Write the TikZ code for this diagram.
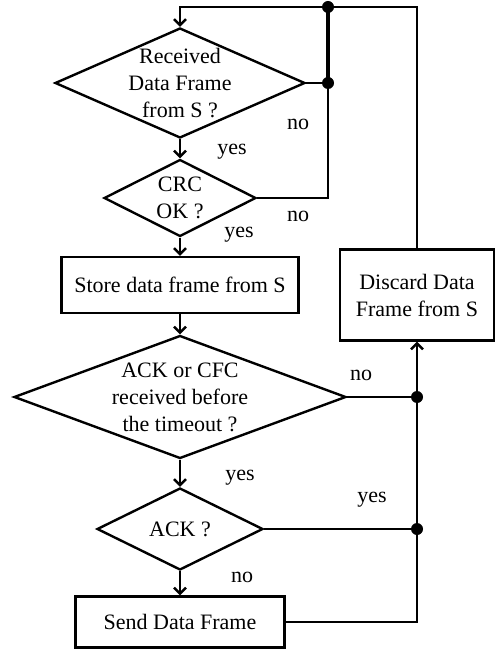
\documentclass[tikz,border=0pt]{standalone}
\usepackage{fontspec}
\setmainfont{Liberation Serif}
\usepackage{tikz}
\usetikzlibrary{arrows.meta}
\usetikzlibrary{shapes.geometric}

\begin{document}
\begin{tikzpicture}[x=1pt, y=-1pt, line width=2.4pt,
    font=\fontsize{22}{27}\selectfont,
    decision/.style={diamond, draw, inner sep=0pt},
    stepbox/.style={rectangle, draw, inner sep=0pt, align=center},
    dot/.style={circle, fill, inner sep=0pt, minimum size=12pt},
    flow/.style={-{Straight Barb[length=6pt, width=12pt]}}]
    \useasboundingbox (0, 0) rectangle (503, 652);
    \node[decision, minimum width=250pt, minimum height=110pt,
        label={[align=center]center:Received\\Data Frame\\from S ?}] (recv) at (180, 83) {};
    \node[decision, minimum width=152pt, minimum height=77pt,
        label={[align=center]center:CRC\\OK ?}] (crc) at (180, 198) {};
    \node[stepbox, minimum width=237pt, minimum height=56pt] (store) at (180, 285) {Store data frame from S};
    \node[decision, minimum width=332pt, minimum height=123pt,
        label={[align=center]center:ACK or CFC\\received before\\the timeout ?}] (timeout) at (180, 397) {};
    \node[decision, minimum width=166pt, minimum height=82pt,
        label={center:ACK ?}] (ack) at (180, 529) {};
    \node[stepbox, minimum width=209pt, minimum height=51pt] (send) at (180, 622) {Send Data Frame};
    \node[stepbox, minimum width=154pt, minimum height=91pt] (discard) at (417, 295) {Discard Data\\Frame from S};

    \node[dot] (jtop) at (328, 7) {};
    \node[dot] (jrecv) at (328, 83) {};
    \node[dot] (jtime) at (417, 397) {};
    \node[dot] (jack) at (417, 529) {};

    \draw[flow] (recv) -- (crc);
    \draw[flow] (crc) -- (store);
    \draw[flow] (store) -- (timeout);
    \draw[flow] (timeout) -- (ack);
    \draw[flow] (ack) -- (send);
    \draw (recv.east) -- (jrecv.center);
    \draw (crc.east) -| (jrecv.center);
    \draw[line width=3.2pt] (jrecv.center) -- (jtop.center);
    \draw[flow] (discard.north) |- (jtop.center) -| (recv.north);
    \draw (timeout.east) -- (jtime.center);
    \draw (ack.east) -- (jack.center);
    \draw[flow] (send.east) -| (discard.south);

    \node (norecv) at (298, 124) {no};
    \node (yesrecv) at (232, 152) {yes};
    \node (nocrc) at (298, 216) {no};
    \node (yescrc) at (239, 235) {yes};
    \node (notime) at (361, 375) {no};
    \node (yestime) at (240, 478) {yes};
    \node (yesack) at (372, 500) {yes};
    \node (noack) at (242, 577) {no};
\end{tikzpicture}
\end{document}
